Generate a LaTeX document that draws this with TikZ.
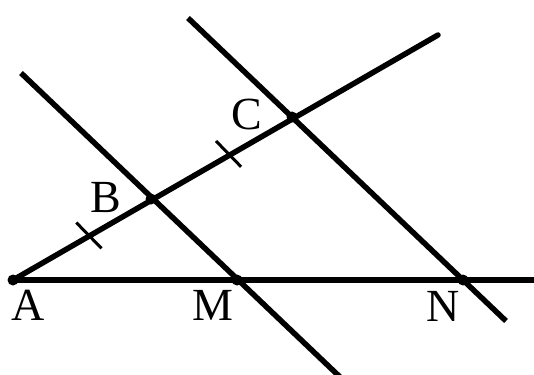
\documentclass[tikz,border=0pt]{standalone}
\usepackage{fontspec}
\setmainfont{Liberation Serif}
\usetikzlibrary{calc}
\begin{document}
\begin{tikzpicture}[x=1pt,y=-1pt,
  ln/.style={line width=5.5pt},
  tick/.style={line width=3pt},
  lbl/.style={font=\fontsize{46}{46}\selectfont, inner sep=0pt},
  dot/.style={circle, fill=black, inner sep=0pt, minimum size=11pt}]
\useasboundingbox (0,0) rectangle (534,374);
\clip (0,0) rectangle (534,374);
\coordinate (A) at (13,280);
\coordinate (B) at (151,199);
\coordinate (C) at (292,117);
\coordinate (M) at (237,280);
\coordinate (N) at (463,280);
\coordinate (Cend) at (438,35);
\coordinate (Hend) at (540,280);
\coordinate (b1) at (21,73);
\coordinate (b2) at (340,377);
\coordinate (c1) at (188,18);
\coordinate (c2) at (506,321);
\draw[ln] (A) -- (Hend);
\draw[ln, line cap=round] (A) -- (Cend);
\draw[ln] (b1) -- (b2);
\draw[ln] (c1) -- (c2);
\coordinate (t1) at ($(A)!0.55!(B)$);
\coordinate (t2) at ($(B)!0.55!(C)$);
\draw[tick] ($(t1)!18pt!104:(B)$) -- ($(t1)!18pt!-76:(B)$);
\draw[tick] ($(t2)!18pt!104:(C)$) -- ($(t2)!18pt!-76:(C)$);
\node[dot] (dA) at (A) {};
\node[dot] (dB) at (B) {};
\node[dot] (dC) at (C) {};
\node[dot] (dM) at (M) {};
\node[dot] (dN) at (N) {};
\node[lbl, anchor=base] (lA) at (28.5,320) {A};
\node[lbl, anchor=base] (lB) at (105.5,212) {B};
\node[lbl, anchor=base] (lC) at (247,130) {C};
\node[lbl, anchor=base] (lM) at (212.5,320) {M};
\node[lbl, anchor=base] (lN) at (443.5,321) {N};
\end{tikzpicture}
\end{document}
